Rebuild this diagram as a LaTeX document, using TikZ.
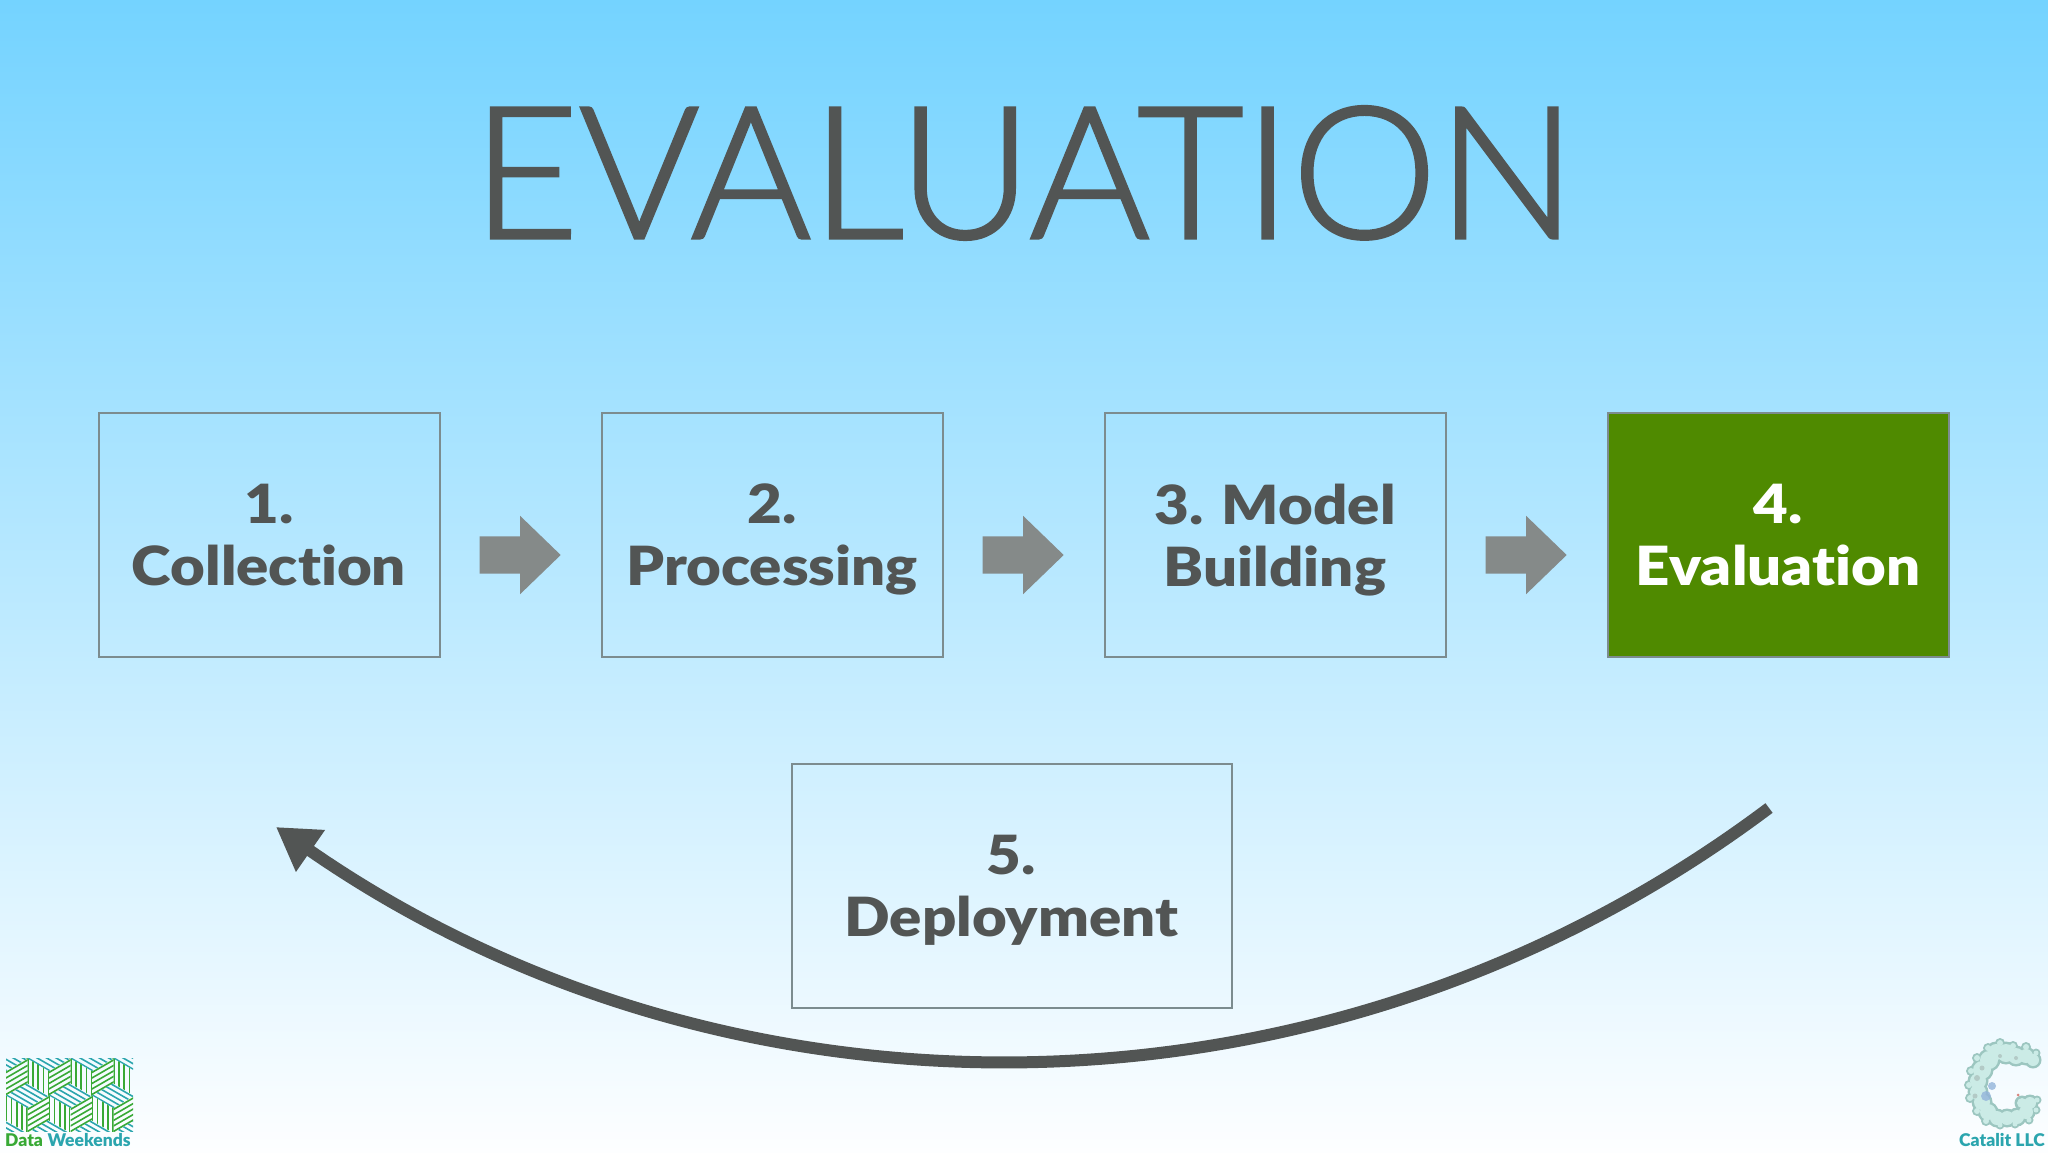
\documentclass[tikz,border=0pt]{standalone}
\usepackage{fontspec}
\setmainfont{Lato}
\newfontfamily\heavyfont{Lato}[UprightFont=* Black,FakeStretch=1.11,Ligatures=NoCommon]
\newfontfamily\titlefont{Lato}[UprightFont=* Light,FakeBold=1.6]
\newfontfamily\logofont{Lato}[UprightFont=* Black,Ligatures=NoCommon]
\usetikzlibrary{shapes.arrows,arrows.meta,calc}
\definecolor{bgtop}{HTML}{74D3FF}
\definecolor{bgbot}{HTML}{FDFEFF}
\definecolor{ink}{HTML}{525554}
\definecolor{edge}{HTML}{7C8C8F}
\definecolor{blockarrow}{HTML}{858A89}
\definecolor{greenbox}{HTML}{4F8A00}
\definecolor{logogreen}{HTML}{38A935}
\definecolor{logoteal}{HTML}{2BA5AE}
\definecolor{blobshade}{HTML}{9CC6C0}
\definecolor{blob}{HTML}{CBEBE6}
\definecolor{blobgrey}{HTML}{A9BDB9}
\definecolor{blobblue}{HTML}{93B4DA}
\definecolor{blobred}{HTML}{D9867E}
\newcommand{\nd}[1]{\raisebox{0pt}[\height][0pt]{#1}}
\tikzset{
  stagebox/.style={draw=edge,line width=2pt,minimum height=244pt,inner sep=0pt,align=center,
    font=\heavyfont\fontsize{54}{62}\selectfont,text=ink},
  narrow/.style={minimum width=341pt},
  wide/.style={minimum width=440pt},
  flowarrow/.style={single arrow,fill=blockarrow,minimum height=81pt,inner sep=18.5pt,
    single arrow head extend=20.5pt,single arrow tip angle=88,single arrow head indent=0pt,anchor=center},
  backarrow/.style={draw=ink,line width=12pt,-{Triangle[length=42pt,width=48pt]}},
  stripeG/.style={draw=logogreen,line width=1.6pt},
  stripeT/.style={draw=logoteal,line width=1.6pt},
  logotext/.style={inner sep=0pt,font=\logofont\fontsize{17.5}{18}\selectfont}
}
\newcommand{\cube}[2]{% centre x, y of a cube
  \begin{scope}[shift={(#1,#2)}]
    \begin{scope}
      \clip (0,0) -- (-21.5,-12.5) -- (0,-25) -- (21.5,-12.5) -- cycle;
      \foreach \k in {-6,...,6}{\draw[stripeT] (-30,-12.5+\k*5.5) -- (30,-12.5+\k*5.5+34.6);}
    \end{scope}
    \begin{scope}
      \clip (0,0) -- (-21.5,-12.5) -- (-21.5,12.5) -- (0,25) -- cycle;
      \foreach \k in {-4,...,4}{\draw[stripeG] (-10.75+\k*5.2,-40) -- (-10.75+\k*5.2,40);}
    \end{scope}
    \begin{scope}
      \clip (0,0) -- (21.5,-12.5) -- (21.5,12.5) -- (0,25) -- cycle;
      \foreach \k in {-6,...,6}{\draw[stripeG] (-30,12.5+\k*5.5+17.3) -- (50,12.5+\k*5.5-29);}
    \end{scope}
  \end{scope}}
\begin{document}
\begin{tikzpicture}[x=1pt,y=-1pt]
\useasboundingbox (0,0) rectangle (2048,1152);
\shade[top color=bgtop,bottom color=bgbot,middle color=bgtop!50!bgbot] (0,0) rectangle (2048,1152);
% title
\node[inner sep=0pt,text=ink,font=\titlefont\fontsize{184}{184}\selectfont] (title) at (1024,173) {EVALUATION};
% boxes
\node[stagebox,narrow] (b1) at (269,535) {1.\\Collection};
\node[stagebox,narrow] (b2) at (772,535) {2.\\\nd{Processing}};
\node[stagebox,narrow] (b3) at (1275,535) {3. Model\\\nd{Building}};
\node[stagebox,narrow,fill=greenbox,text=white] (b4) at (1778,535) {4.\\Evaluation};
\node[stagebox,wide] (b5) at (1011.5,886) {5.\\\nd{Deployment}};
% block arrows
\node[flowarrow] (a1) at ($(b1.east)!.5!(b2.west)+(-10,20)$) {};
\node[flowarrow] (a2) at ($(b2.east)!.5!(b3.west)+(-10,20)$) {};
\node[flowarrow] (a3) at ($(b3.east)!.5!(b4.west)+(-10,20)$) {};
% return arrow
\coordinate (backstart) at (1769,808);
\coordinate (backend) at (276,827);
\draw[backarrow] (backstart) .. controls (1327,1140) and (727,1140) .. (backend);
% Data Weekends logo
\begin{scope}
  \clip (6,1058) rectangle (133,1131);
  \foreach \cx/\cy in {6/1071,49/1071,92/1071,135/1071,27.5/1108,70.5/1108,113.5/1108,6/1145,49/1145,92/1145,135/1145,27.5/1034,70.5/1034,113.5/1034}
    {\cube{\cx}{\cy}}
\end{scope}
\node[logotext,anchor=west,text=logogreen] (dw1) at (5,1140.5) {Data};
\node[logotext,anchor=west,text=logoteal] (dw2) at (47.5,1140.5) {Weekends};
% Catalit logo
\foreach \px/\py/\s in {2033/1060/7,2026/1056/8,2016/1056/9,2006/1053/10,1996/1052/9,1989/1060/10,1982/1070/10,1978/1081/9,1978/1092/9,1982/1102/9,1988/1112/9,1997/1118/8,2007/1118/8,2017/1117/8,2026/1112/8,2030/1103/7,2022/1103/6,
  2036/1053/3,2026/1047/3.5,2013/1046/3.5,2000/1043/3.5,1988/1048/3.5,1977/1058/3.5,1971/1071/3.5,1969/1085/3.5,1970/1098/3.5,1977/1111/3.5,1986/1121/3.5,2000/1125/3,2015/1124/3,2029/1120/3,2036/1110/3,2037/1100/3}
  {\fill[blobshade] (\px,\py) circle[radius=\s+1.5];}
\foreach \px/\py/\s in {2033/1060/6,2026/1056/7,2016/1056/8,2006/1053/9,1996/1052/8,1989/1060/9,1982/1070/9,1978/1081/8,1978/1092/8,1982/1102/8,1988/1112/8,1997/1118/7,2007/1118/7,2017/1117/7,2026/1112/7,2030/1103/6,2022/1103/5,
  2036/1053/2.5,2026/1047/3,2013/1046/3,2000/1043/3,1988/1048/3,1977/1058/3,1971/1071/3,1969/1085/3,1970/1098/3,1977/1111/3,1986/1121/3,2000/1125/2.5,2015/1124/2.5,2029/1120/2.5,2036/1110/2.5,2037/1100/2.5}
  {\fill[blob] (\px,\py) circle[radius=\s];}
\fill[blobgrey,opacity=.7] (1977,1078) circle[radius=3] (1982,1068) circle[radius=2.5] (2000,1056) circle[radius=2] (2016,1058) circle[radius=2] (1975,1096) circle[radius=2.5];
\fill[blobblue,opacity=.8] (1986,1096) circle[radius=5] (1992,1086) circle[radius=4];
\fill[blobred] (2018,1095) circle[radius=1.5];
\node[inner sep=0pt,anchor=east,text=logoteal,font=\logofont\fontsize{17.5}{18}\selectfont] (cat) at (2045,1139.5) {Catalit LLC};
\end{tikzpicture}
\end{document}
